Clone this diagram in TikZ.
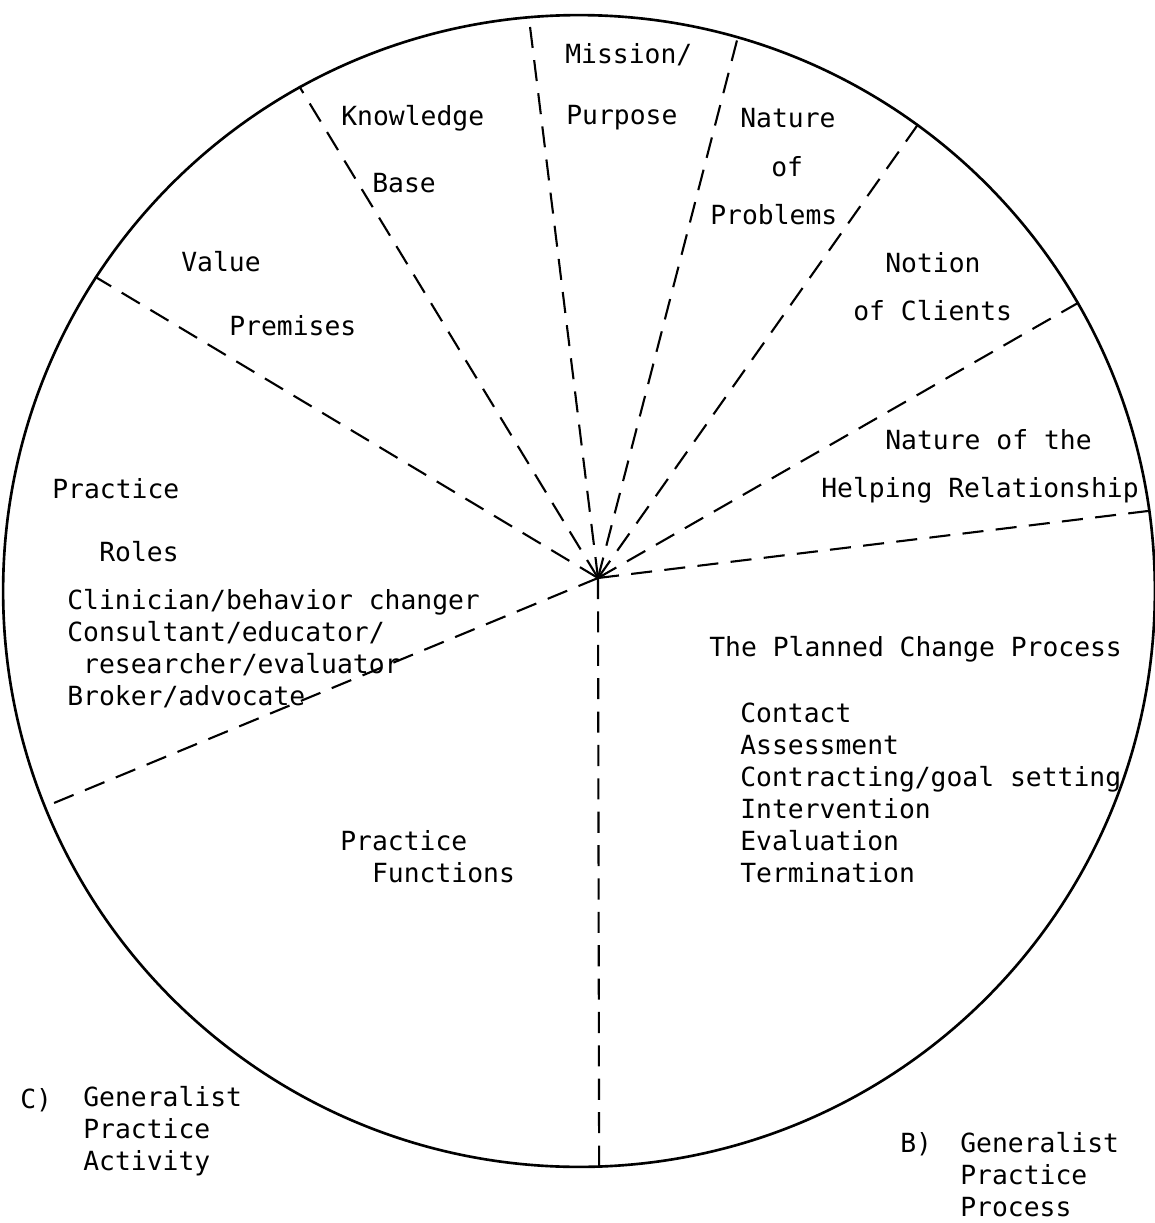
\documentclass[tikz,border=0pt]{standalone}
\usepackage{fontspec}
\setmonofont{DejaVu Sans Mono}
\begin{document}
\begin{tikzpicture}[x=0.02cm, y=-0.02cm,
    spoke/.style={line width=1.2pt, dash pattern=on 12pt off 7pt},
    lbl/.style={anchor=west, inner sep=0pt, align=left,
      font=\ttfamily\fontsize{15pt}{18.2pt}\selectfont}]
  \useasboundingbox (0,0) rectangle (1155,1223);
  % outer circle and hub
  \node[draw, circle, line width=1.5pt, inner sep=0pt, minimum size=23.04cm] (rim) at (579,591) {};
  \coordinate (hub) at (598,578);
  \foreach \a in {147.7,119.5,95.2,74.1,54.1,30.1,8.7,272.1,202.3}
    \draw[spoke] (hub) -- (rim.\a);
  % upper sectors
  \node[lbl] (mission) at (565,55) {Mission/};
  \node[lbl] (purpose) at (566,118) {Purpose};
  \node[lbl] (know) at (341,118) {Knowledge};
  \node[lbl] (base) at (372,183) {Base};
  \node[lbl] (nature) at (740,118) {Nature};
  \node[lbl] (natof) at (771,167) {of};
  \node[lbl] (probs) at (710,215) {Problems};
  \node[lbl] (value) at (181,262) {Value};
  \node[lbl] (prem) at (229,326) {Premises};
  \node[lbl] (notion) at (885,263) {Notion};
  \node[lbl] (clients) at (853,311) {of Clients};
  \node[lbl] (natthe) at (885,440) {Nature of the};
  \node[lbl] (helping) at (821,490) {Helping Relationship};
  % practice roles
  \node[lbl] (practice) at (52,489) {Practice};
  \node[lbl] (roles) at (99,552) {Roles};
  \node[lbl] (rolelist) at (67,649) {Clinician/behavior changer\\Consultant/educator/\\~researcher/evaluator\\Broker/advocate};
  % planned change
  \node[lbl] (planned) at (709,649) {The Planned Change Process};
  \node[lbl] (steps) at (740,793) {Contact\\Assessment\\Contracting/goal setting\\Intervention\\Evaluation\\Termination};
  \node[lbl] (functions) at (340,857) {Practice\\~~Functions};
  % captions
  \node[lbl] (capc) at (20,1100) {C)};
  \node[lbl] (activity) at (83,1131) {Generalist\\Practice\\Activity};
  \node[lbl] (capb) at (900,1144) {B)};
  \node[lbl] (process) at (960,1175) {Generalist\\Practice\\Process};
\end{tikzpicture}
\end{document}
